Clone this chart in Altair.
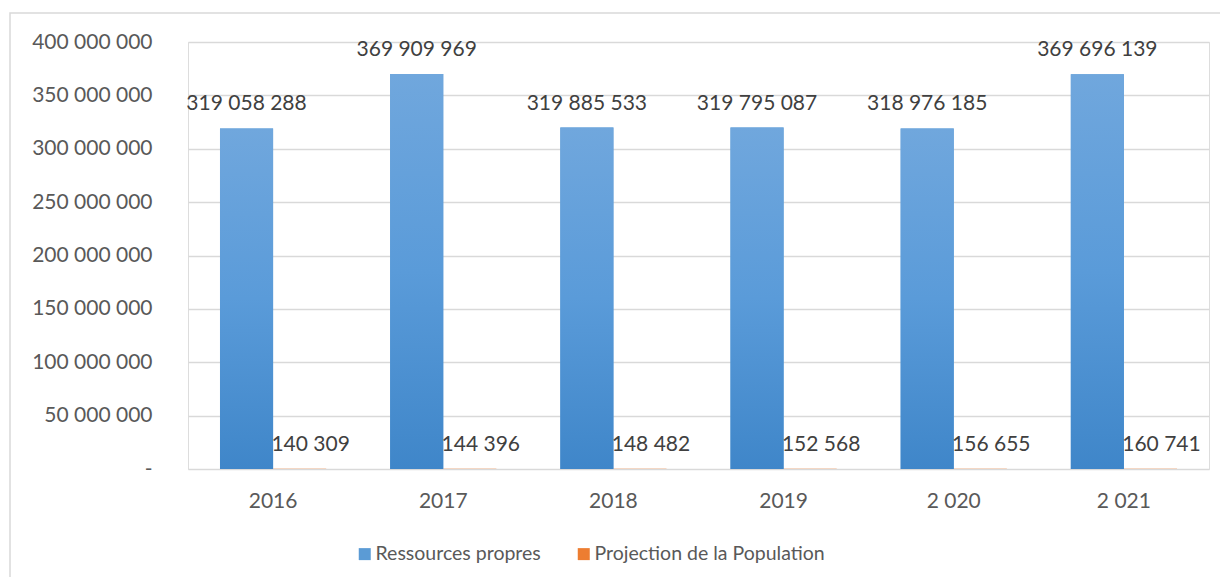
import altair as alt
import pandas as pd

years = ["2016", "2017", "2018", "2019", "2 020", "2 021"]
series = ["Ressources propres", "Projection de la Population"]
ressources = [319058288, 369909969, 319885533, 319795087, 318976185, 369696139]
population = [140309, 144396, 148482, 152568, 156655, 160741]
y_ticks = [0, 50000000, 100000000, 150000000, 200000000, 250000000, 300000000, 350000000, 400000000]
colors = ["#5b9bd5", "#ed7d31"]


def fmt(v):
    return f"{v:,}".replace(",", " ")


rows = []
for yr, r, p in zip(years, ressources, population):
    rows.append({"year": yr, "serie": series[0], "value": r, "label": fmt(r)})
    rows.append({"year": yr, "serie": series[1], "value": p, "label": fmt(p)})
df = pd.DataFrame(rows)

FONT = "Lato"
FS = 21

x_enc = alt.X(
    "year:N", sort=years,
    scale=alt.Scale(paddingInner=0.376, paddingOuter=0.188),
    axis=alt.Axis(title=None, labelAngle=0, domain=False, ticks=False,
                  labelPadding=21, labelFontSize=FS, labelColor="#595959",
                  labelFont=FONT),
)
xo_enc = alt.XOffset("serie:N", sort=series, scale=alt.Scale(domain=series, paddingInner=0, paddingOuter=0))
y_enc = alt.Y(
    "value:Q",
    scale=alt.Scale(domain=[0, 400000000], nice=False),
    axis=alt.Axis(title=None, values=y_ticks, domain=False, ticks=False,
                  labelPadding=36, labelFontSize=FS, labelColor="#595959",
                  labelFont=FONT, gridColor="#d9d9d9", gridWidth=1.5,
                  labelExpr="datum.value == 0 ? '-' : replace(format(datum.value, ',d'), /,/g, ' ')"),
)

base = alt.Chart(df).encode(x=x_enc, xOffset=xo_enc, y=y_enc)

bars = base.mark_bar().encode(
    color=alt.Color(
        "serie:N", sort=series,
        scale=alt.Scale(domain=series, range=colors),
        legend=alt.Legend(title=None, orient="none", legendX=167, legendY=502,
                          direction="horizontal", symbolType="square",
                          symbolSize=144, symbolStrokeWidth=0, labelLimit=500,
                          labelFontSize=19.5, labelColor="#595959", labelFont=FONT,
                          columnPadding=33, labelOffset=1),
    )
)

grad_bars = base.transform_filter(
    alt.datum.serie == series[0]
).mark_bar(
    color=alt.Gradient(
        gradient="linear",
        stops=[alt.GradientStop(color="#70a7dd", offset=0),
               alt.GradientStop(color="#5a9bd9", offset=0.5),
               alt.GradientStop(color="#3f86c9", offset=1)],
        x1=0, x2=0, y1=0, y2=1,
    )
)

labels_res = base.transform_filter(alt.datum.serie == series[0]).mark_text(
    dy=-18, baseline="alphabetic", fontSize=FS, color="#404040", font=FONT
).encode(text="label:N")

labels_pop = base.transform_filter(alt.datum.serie == series[1]).mark_text(
    dy=-18, dx=11, baseline="alphabetic", fontSize=FS, color="#404040", font=FONT
).encode(text="label:N")

border = alt.Chart(pd.DataFrame({"a": [0]})).mark_rect(
    fill="transparent", stroke="#d9d9d9", strokeWidth=1.5
).encode(
    x=alt.value(-178), x2=alt.value(1060), y=alt.value(-29), y2=alt.value(600)
)

chart = alt.layer(border, bars, grad_bars, labels_res, labels_pop).properties(
    width=1021, height=427,
    autosize=alt.AutoSizeParams(type="none"),
    padding={"left": 180, "top": 34, "right": 11, "bottom": 108},
    background="white",
).configure_view(stroke=None).configure(font=FONT)

chart.save("out.html", embed_options={"renderer": "svg", "actions": False})
